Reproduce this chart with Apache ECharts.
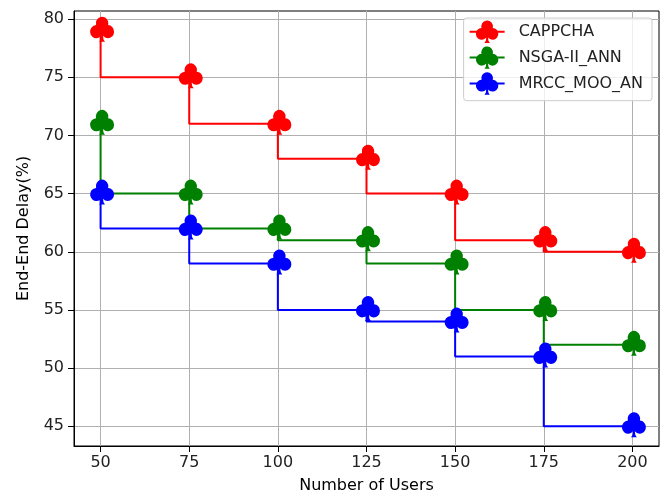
<!DOCTYPE html>
<html>
<head>
<meta charset="utf-8">
<script src="https://cdn.jsdelivr.net/npm/echarts@6/dist/echarts.min.js"></script>
<style>
  html, body { margin: 0; padding: 0; background: #fff; }
  #chart { width: 667px; height: 499px; }
</style>
</head>
<body>
<div id="chart"></div>
<script>
// Number of users on the x axis
const users = [50, 75, 100, 125, 150, 175, 200];

// End-to-end delay (%) per method
const cappcha = [79, 75, 71, 68, 65, 61, 60];
const nsgaIIAnn = [71, 65, 62, 61, 59, 55, 52];
const mrccMooAn = [65, 62, 59, 55, 54, 51, 45];

// Tick labels
const xTicks = [50, 75, 100, 125, 150, 175, 200];
const yTicks = [45, 50, 55, 60, 65, 70, 75, 80];

// Club-shaped marker traced as one outline: stem, left leaf, top leaf, right leaf
const CLUB = 'path://M38,100 L44,91 L46,76.6 ' +
  'A26,26 0 1,1 24.96,34.02 ' +
  'A26,26 0 1,1 75.04,34.02 ' +
  'A26,26 0 1,1 54,76.6 ' +
  'L56,91 L62,100 Z';

const FONT = 'DejaVu Sans';
const FS = 16;

function pairs(ys) {
  return users.map((x, i) => [x, ys[i]]);
}

function stepSeries(name, color, ys) {
  return {
    name: name,
    type: 'line',
    step: 'start',
    data: pairs(ys),
    symbol: CLUB,
    symbolSize: [24, 25],
    symbolOffset: [1.5, -1.5],
    showAllSymbol: true,
    lineStyle: { color: color, width: 2 },
    itemStyle: { color: color, opacity: 1 },
    emphasis: { disabled: true },
    z: 3
  };
}

const chart = echarts.init(document.getElementById('chart'), null, { renderer: 'canvas' });

chart.setOption({
  animation: false,
  backgroundColor: '#ffffff',
  textStyle: { fontFamily: FONT },
  grid: {
    left: 74, right: 8, top: 11, bottom: 53,
    show: true, borderColor: '#000000', borderWidth: 1, backgroundColor: 'transparent'
  },
  legend: {
    orient: 'vertical',
    right: 15,
    top: 18,
    itemWidth: 35,
    itemHeight: 28,
    itemGap: 3.5,
    padding: [2.5, 9, 6, 5],
    backgroundColor: 'rgba(255,255,255,0.8)',
    borderColor: '#cccccc',
    borderWidth: 1,
    borderRadius: 3,
    selectedMode: false,
    textStyle: { fontFamily: FONT, fontSize: FS, color: '#222222', padding: [0, 0, 0, 9] },
    data: ['CAPPCHA', 'NSGA-II_ANN', 'MRCC_MOO_AN']
  },
  xAxis: {
    type: 'value',
    min: 42.5,
    max: 207.5,
    name: 'Number of Users',
    nameLocation: 'middle',
    nameGap: 32,
    nameTextStyle: { fontFamily: FONT, fontSize: FS, color: '#000000' },
    axisLine: { show: true, onZero: false, lineStyle: { color: '#000000', width: 1 } },
    axisTick: { show: true, length: 6, inside: false, customValues: xTicks, lineStyle: { color: '#000000' } },
    axisLabel: { customValues: xTicks, fontFamily: FONT, fontSize: FS, color: '#222222', margin: 9 },
    splitLine: { show: true, lineStyle: { color: '#b0b0b0', width: 1 } }
  },
  yAxis: {
    type: 'value',
    min: 43.3,
    max: 80.7,
    name: 'End-End Delay(%)',
    nameLocation: 'middle',
    nameGap: 42,
    nameTextStyle: { fontFamily: FONT, fontSize: FS, color: '#000000' },
    axisLine: { show: true, onZero: false, lineStyle: { color: '#000000', width: 1 } },
    axisTick: { show: true, length: 6, inside: false, customValues: yTicks, lineStyle: { color: '#000000' } },
    axisLabel: { customValues: yTicks, fontFamily: FONT, fontSize: FS, color: '#222222', margin: 10 },
    splitLine: { show: true, lineStyle: { color: '#b0b0b0', width: 1 } }
  },
  series: [
    stepSeries('CAPPCHA', '#ff0000', cappcha),
    stepSeries('NSGA-II_ANN', '#008000', nsgaIIAnn),
    stepSeries('MRCC_MOO_AN', '#0000ff', mrccMooAn)
  ]
});
</script>
</body>
</html>
